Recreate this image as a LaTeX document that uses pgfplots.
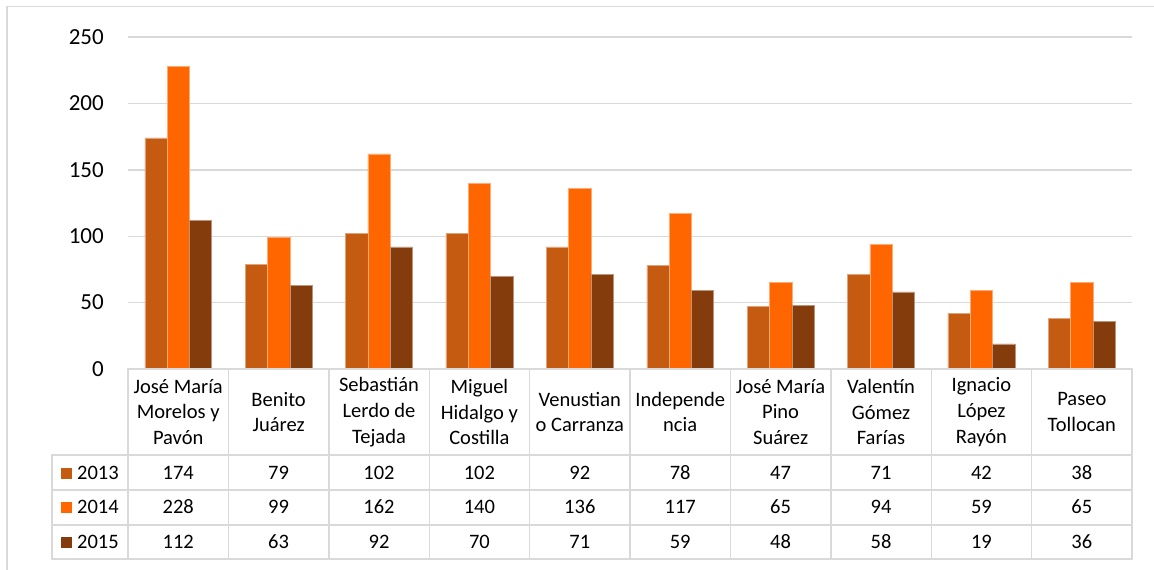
\documentclass[border=0pt]{standalone}
\usepackage{pgfplots}
\pgfplotsset{compat=1.18}
\usepackage{pgfplotstable}
\usepackage{fontspec}
\setmainfont{Carlito}

\definecolor{c13}{RGB}{197,90,17}
\definecolor{c14}{RGB}{255,102,0}
\definecolor{c15}{RGB}{132,60,12}
\definecolor{gridgray}{RGB}{217,217,217}

\newcommand{\tabfont}{\fontsize{20.5}{25.7}\selectfont}

% one row per category: 2013 (a), 2014 (b), 2015 (c)
\pgfplotstableread{
x a b c
0 174 228 112
1 79 99 63
2 102 162 92
3 102 140 70
4 92 136 71
5 78 117 59
6 47 65 48
7 71 94 58
8 42 59 19
9 38 65 36
}\data

\begin{document}
\begin{tikzpicture}[x=1pt,y=1pt]
\path[use as bounding box] (0,0) rectangle (1154,-570);
% chart frame
\draw[gridgray, line width=1.3pt] (7,-570) -- (7,-6.5) -- (1154,-6.5);

\begin{axis}[
  at={(128pt,-369pt)}, anchor=south west,
  scale only axis, width=1004pt, height=332pt,
  xmin=-0.5, xmax=9.5, ymin=0, ymax=250,
  ytick={0,50,...,250},
  xtick=\empty,
  axis line style={draw=none},
  major tick length=0pt,
  ymajorgrids, grid style={gridgray, line width=1.4pt},
  yticklabel style={font=\fontsize{23}{27}\selectfont, inner sep=0pt, anchor=east, xshift=-24pt},
  /pgf/number format/assume math mode=true,
  clip=false,
]
\addplot[ybar, bar width=22.3pt, bar shift=-22.3pt, fill=c13, draw=c13!55!white, line width=0.5pt] table[x=x,y=a]{\data};
\addplot[ybar, bar width=22.3pt, bar shift=0pt, fill=c14, draw=c14!55!white, line width=0.5pt] table[x=x,y=b]{\data};
\addplot[ybar, bar width=22.3pt, bar shift=22.3pt, fill=c15, draw=c15!55!white, line width=0.5pt] table[x=x,y=c]{\data};
\end{axis}

% data table grid
\begin{scope}[gridgray, line width=1.4pt, line cap=rect]
\foreach \k in {0,...,10} \draw ({128+100.4*\k},-369) -- ({128+100.4*\k},-559);
\draw (52,-455) -- (52,-559);
\draw (128,-369) -- (1132,-369);
\foreach \yy in {455,490,525,559} \draw (52,-\yy) -- (1132,-\yy);
\end{scope}

% category names
\foreach \i/\name in {
  0/{José María\\Morelos y\\Pavón},
  1/{Benito\\Juárez},
  2/{Sebastián\\Lerdo de\\Tejada},
  3/{Miguel\\Hidalgo y\\Costilla},
  4/{Venustian\\o Carranza},
  5/{Independe\\ncia},
  6/{José María\\Pino\\Suárez},
  7/{Valentín\\Gómez\\Farías},
  8/{Ignacio\\López\\Rayón},
  9/{Paseo\\Tollocan}}
  \node[font=\tabfont, align=center, inner sep=0pt] at ({178.2+100.4*\i},-412) {\name};

% legend keys
\fill[c13] (61,-467.5) rectangle (72,-478.5);
\fill[c14] (61,-502) rectangle (72,-513);
\fill[c15] (61,-537) rectangle (72,-548);
\node[font=\tabfont, anchor=base west, inner sep=0pt] at (77,-479.3) {2013};
\node[font=\tabfont, anchor=base west, inner sep=0pt] at (77,-513.5) {2014};
\node[font=\tabfont, anchor=base west, inner sep=0pt] at (77,-548.3) {2015};

% values
\foreach \i in {0,...,9}{
  \pgfplotstablegetelem{\i}{a}\of\data
  \node[font=\tabfont, anchor=base, inner sep=0pt] at ({178.2+100.4*\i},-479.3) {\pgfplotsretval};
  \pgfplotstablegetelem{\i}{b}\of\data
  \node[font=\tabfont, anchor=base, inner sep=0pt] at ({178.2+100.4*\i},-513.5) {\pgfplotsretval};
  \pgfplotstablegetelem{\i}{c}\of\data
  \node[font=\tabfont, anchor=base, inner sep=0pt] at ({178.2+100.4*\i},-548.3) {\pgfplotsretval};
}
\end{tikzpicture}
\end{document}
